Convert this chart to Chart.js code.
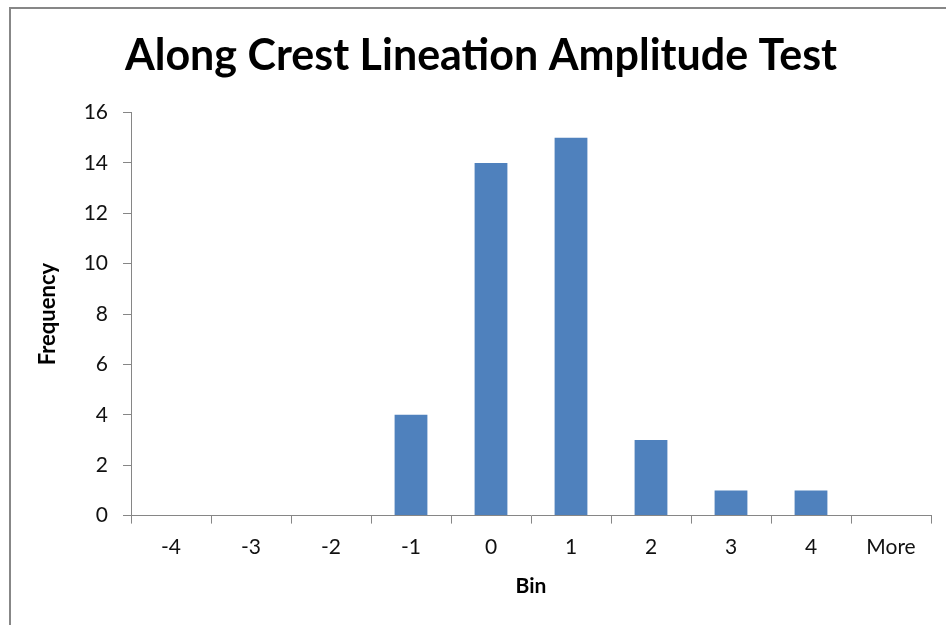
<!DOCTYPE html>
<html>
<head>
<meta charset="utf-8">
<script src="https://cdn.jsdelivr.net/npm/chart.js@4"></script>
<style>
  html, body { margin: 0; padding: 0; background: #fff; }
  #frame { position: absolute; left: 9px; top: 7px; width: 960px; height: 660px; border: 2px solid #878787; }
  #wrap { position: absolute; left: 0; top: 0; width: 946px; height: 625px; }
</style>
</head>
<body>
<div id="frame"></div>
<div id="wrap"><canvas id="histChart"></canvas></div>
<script>
// Histogram bins and counts
const bins = ['-4', '-3', '-2', '-1', '0', '1', '2', '3', '4', 'More'];
const frequency = [0, 0, 0, 4, 14, 15, 3, 1, 1, 0];
const yTicks = [0, 2, 4, 6, 8, 10, 12, 14, 16];

const axisGray = '#868686';
const fontFamily = 'Lato, "Open Sans", sans-serif';

const ctx = document.getElementById('histChart').getContext('2d');
new Chart(ctx, {
    type: 'bar',
    data: {
        labels: bins,
        datasets: [{
            label: 'Frequency',
            data: frequency,
            backgroundColor: '#4F81BD',
            borderWidth: 0,
            barPercentage: 0.41,
            categoryPercentage: 1.0
        }]
    },
    options: {
        responsive: true,
        maintainAspectRatio: false,
        animation: false,
        layout: { padding: { left: 31, right: 15, top: 30, bottom: 22 } },
        plugins: {
            legend: { display: false },
            tooltip: { enabled: false },
            title: {
                display: true,
                text: 'Along Crest Lineation Amplitude Test',
                color: '#000',
                font: { family: fontFamily, size: 43, weight: 'bold' },
                padding: { top: 0, bottom: 31 }
            }
        },
        scales: {
            x: {
                grid: { display: true, drawOnChartArea: false, drawTicks: true, tickLength: 8, color: axisGray },
                border: { color: axisGray, width: 1 },
                ticks: { color: '#111', font: { family: fontFamily, size: 21 }, padding: 11 },
                title: {
                    display: true, text: 'Bin', color: '#000',
                    font: { family: fontFamily, size: 21, weight: 'bold' },
                    padding: { top: 3, bottom: 4 }
                }
            },
            y: {
                min: 0,
                max: yTicks[yTicks.length - 1],
                afterBuildTicks: scale => { scale.ticks = yTicks.map(v => ({ value: v })); },
                afterFit: scale => { scale.width = 100; },
                grid: { display: true, drawOnChartArea: false, drawTicks: true, tickLength: 8, color: axisGray },
                border: { color: axisGray, width: 1 },
                ticks: { color: '#111', font: { family: fontFamily, size: 21 }, padding: 15 },
                title: {
                    display: true, text: 'Frequency', color: '#000',
                    font: { family: fontFamily, size: 22, weight: 'bold' },
                    padding: { top: 4, bottom: 4 }
                }
            }
        }
    }
});
</script>
</body>
</html>
